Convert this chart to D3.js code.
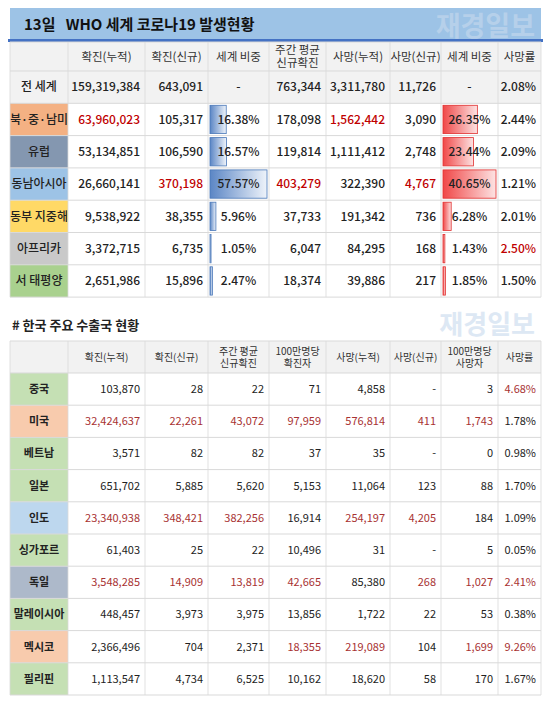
<!DOCTYPE html>
<html><head><meta charset="utf-8">
<script src="https://d3js.org/d3.v7.min.js"></script>
<style>body{margin:0;background:#fff;font-family:"Noto Sans CJK KR","Noto Sans",sans-serif}</style>
</head><body><svg id="c" width="550" height="707"></svg>
<script>
const title = "13일   WHO 세계 코로나19 발생현황";
const topHeaders = [["확진(누적)"],["확진(신규)"],["세계 비중"],["주간 평균","신규확진"],["사망(누적)"],["사망(신규)"],["세계 비중"],["사망률"]];
const regions = ["전 세계","북·중·남미","유럽","동남아시아","동부 지중해","아프리카","서 태평양"];
const regionColors = ["#f2f2f2","#f4b183","#8497b0","#9dc3e6","#ffd966","#c9c9c9","#a9d18e"];
const confCum = ["159,319,384","63,960,023","53,134,851","26,660,141","9,538,922","3,372,715","2,651,986"];
const confNew = ["643,091","105,317","106,590","370,198","38,355","6,735","15,896"];
const confShare = [null,16.38,16.57,57.57,5.96,1.05,2.47];
const weekAvg = ["763,344","178,098","119,814","403,279","37,733","6,047","18,374"];
const deathCum = ["3,311,780","1,562,442","1,111,412","322,390","191,342","84,295","39,886"];
const deathNew = ["11,726","3,090","2,748","4,767","736","168","217"];
const deathShare = [null,26.35,23.44,40.65,6.28,1.43,1.85];
const deathRate = ["2.08%","2.44%","2.09%","1.21%","2.01%","2.50%","1.50%"];
const topRed = [[],[0,4],[],[1,3,5],[],[7],[]];

const subtitle = "# 한국 주요 수출국 현황";
const botHeaders = [["확진(누적)"],["확진(신규)"],["주간 평균","신규확진"],["100만명당","확진자"],["사망(누적)"],["사망(신규)"],["100만명당","사망자"],["사망률"]];
const countries = ["중국","미국","베트남","일본","인도","싱가포르","독일","말레이시아","멕시코","필리핀"];
const countryColors = ["#c5e0b4","#f8cbad","#c5e0b4","#c5e0b4","#bdd7ee","#c5e0b4","#adb9ca","#c5e0b4","#f8cbad","#c5e0b4"];
const bConfCum = ["103,870","32,424,637","3,571","651,702","23,340,938","61,403","3,548,285","448,457","2,366,496","1,113,547"];
const bConfNew = ["28","22,261","82","5,885","348,421","25","14,909","3,973","704","4,734"];
const bWeek = ["22","43,072","82","5,620","382,256","22","13,819","3,975","2,371","6,525"];
const bPerM = ["71","97,959","37","5,153","16,914","10,496","42,665","13,856","18,355","10,162"];
const bDeathCum = ["4,858","576,814","35","11,064","254,197","31","85,380","1,722","219,089","18,620"];
const bDeathNew = ["-","411","-","123","4,205","-","268","22","104","58"];
const bDeathPerM = ["3","1,743","0","88","184","5","1,027","53","1,699","170"];
const bRate = ["4.68%","1.78%","0.98%","1.70%","1.09%","0.05%","2.41%","0.38%","9.26%","1.67%"];
const botRed = [[7],[0,1,2,3,4,5,6],[],[],[0,1,2,4,5],[],[0,1,2,3,5,6,7],[],[3,4,6,7],[]];

const svg = d3.select("#c");
const edges = [10,68,145,208,269,326,390,441,498,541];
const colX = i => edges[i], colW = i => edges[i+1]-edges[i];
const grid = "#d9d9d9";
const defs = svg.append("defs");
function grad(id,c1,c2){const g=defs.append("linearGradient").attr("id",id);g.append("stop").attr("offset","0%").attr("stop-color",c1);g.append("stop").attr("offset","100%").attr("stop-color",c2);}
grad("gb","#5b86c5","#eef3fa"); grad("gr","#f04848","#fde3e3");

svg.append("rect").attr("x",10).attr("y",8).attr("width",531).attr("height",32).attr("fill","#9dc3e6");
svg.append("text").attr("x",535).attr("y",36).attr("text-anchor","end").attr("font-size",27).attr("font-weight","bold").attr("fill","#b6d0ea").text("재경일보");
svg.append("rect").attr("x",8).attr("y",39).attr("width",535).attr("height",3).attr("fill","#4472c4");
svg.append("text").attr("x",24).attr("y",30).attr("font-size",15).attr("font-weight","bold").attr("fill","#111").attr("xml:space","preserve").text(title);

function table(y0, headerH, rowLabels, labelColors, cols, headers, rowH, fs, hfs, weight, labWeight, redMap, redColor, bars){
  const y = d3.scaleBand().domain(d3.range(rowLabels.length)).range([y0+headerH, y0+headerH+rowH*rowLabels.length]);
  const g = svg.append("g");
  g.append("rect").attr("x",edges[0]).attr("y",y0).attr("width",edges[9]-edges[0]).attr("height",headerH).attr("fill","#f2f2f2");
  headers.forEach((h,i)=>{
    const cx=colX(i+1)+colW(i+1)/2;
    const t=g.append("text").attr("text-anchor","middle").attr("font-size",hfs).attr("fill","#333");
    const lh=hfs+2, start=y0+headerH/2-(h.length-1)*lh/2+hfs*0.36;
    h.forEach((s,k)=>t.append("tspan").attr("x",cx).attr("y",start+k*lh).text(s));
  });
  rowLabels.forEach((lab,r)=>{
    const ry=y(r);
    if(lab==="전 세계") g.append("rect").attr("x",edges[0]).attr("y",ry).attr("width",edges[9]-edges[0]).attr("height",rowH).attr("fill","#f2f2f2");
    g.append("rect").attr("x",edges[0]).attr("y",ry).attr("width",colW(0)).attr("height",rowH).attr("fill",labelColors[r]);
    g.append("text").attr("x",colX(0)+colW(0)/2).attr("y",ry+rowH/2+fs*0.36).attr("text-anchor","middle").attr("font-size",fs).attr("font-weight",labWeight).attr("fill","#222").text(lab);
    cols.forEach((arr,c)=>{
      const ci=c+1, v=arr[r];
      const red=redMap[r].includes(c);
      if(bars && bars[c] && typeof v==="number"){
        const sc=d3.scaleLinear().domain([0,bars[c].max]).range([0,colW(ci)-4]);
        g.append("rect").attr("x",colX(ci)+2).attr("y",ry+2).attr("width",Math.max(1,sc(v))).attr("height",rowH-4).attr("fill",`url(#${bars[c].g})`).attr("stroke",bars[c].s).attr("stroke-width",0.8);
        g.append("text").attr("x",colX(ci)+colW(ci)/2).attr("y",ry+rowH/2+fs*0.36).attr("text-anchor","middle").attr("font-size",fs).attr("font-weight",weight).attr("fill","#222").text(v.toFixed(2)+"%");
      } else {
        const center = (v===null || v==="-") && bars;
        g.append("text").attr("x",center?colX(ci)+colW(ci)/2:colX(ci+1)-5).attr("y",ry+rowH/2+fs*0.36)
          .attr("text-anchor",center?"middle":"end").attr("font-size",fs).attr("font-weight",weight)
          .attr("fill",red?redColor:"#222").text(v===null?"-":v);
      }
    });
  });
  const yEnd=y0+headerH+rowH*rowLabels.length;
  edges.forEach(x=>g.append("line").attr("x1",x).attr("x2",x).attr("y1",y0).attr("y2",yEnd).attr("stroke",grid).attr("stroke-width",0.8));
  [y0,...rowLabels.map((_,r)=>y(r)),yEnd].forEach(yy=>g.append("line").attr("x1",edges[0]).attr("x2",edges[9]).attr("y1",yy).attr("y2",yy).attr("stroke",grid).attr("stroke-width",1));
}

table(42,29,regions,regionColors,[confCum,confNew,confShare,weekAvg,deathCum,deathNew,deathShare,deathRate],topHeaders,32.3,12,11.5,500,500,topRed,"#c00000",
  {2:{max:57.57,g:"gb",s:"#4a78b8"},6:{max:40.65,g:"gr",s:"#e03030"}});

svg.append("text").attr("x",535).attr("y",334).attr("text-anchor","end").attr("font-size",26).attr("font-weight","bold").attr("fill","#dde8f4").text("재경일보");
svg.append("text").attr("x",12).attr("y",330).attr("font-size",13).attr("font-weight","bold").attr("fill","#222").text(subtitle);

table(341,32,countries,countryColors,[bConfCum,bConfNew,bWeek,bPerM,bDeathCum,bDeathNew,bDeathPerM,bRate],botHeaders,32.2,11,10,"normal","bold",botRed,"#a83232",null);
</script></body></html>
